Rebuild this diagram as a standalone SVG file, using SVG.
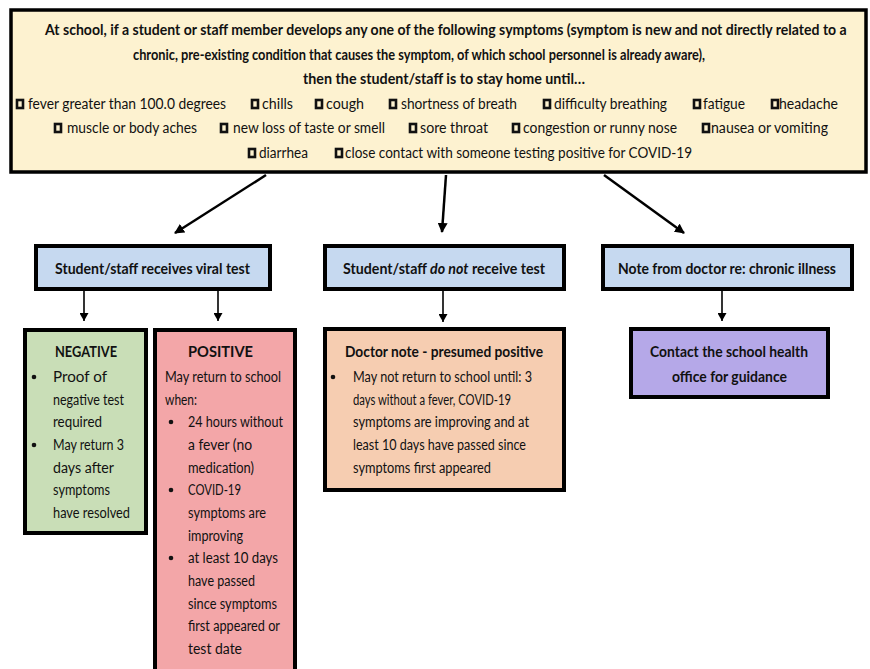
<svg xmlns="http://www.w3.org/2000/svg" width="870" height="669" viewBox="0 0 870 669">
<defs>
<style>
text{font-family:Lato,"Open Sans","Liberation Sans",sans-serif;fill:#111;}
.b{font-weight:bold;font-size:16px;}
.r{font-size:15.5px;}
.box{stroke:#000;stroke-width:4;}
.cb{fill:#fdf2d0;stroke:#111;stroke-width:2.6;}
.ar{stroke:#000;stroke-width:2.5;fill:none;marker-end:url(#ah);}
.sa{stroke:#000;stroke-width:1.6;fill:none;marker-end:url(#sh);}
.bul{fill:#111;}
</style>
<marker id="ah" markerWidth="10" markerHeight="10" refX="9" refY="5" orient="auto" markerUnits="userSpaceOnUse" viewBox="0 0 10 10">
<path d="M0,0 L10,5 L0,10 z" fill="#000"/>
</marker>
<marker id="sh" markerWidth="8" markerHeight="9" refX="8" refY="4.5" orient="auto" markerUnits="userSpaceOnUse" viewBox="0 0 8 9">
<path d="M0,0 L8,4.5 L0,9 z" fill="#000"/>
</marker>
</defs>
<rect width="870" height="669" fill="#fff"/>

<g id="top">
<rect x="11" y="10" width="855" height="162" fill="#fdf2d0" stroke="#000" stroke-width="3.5"/>
<text class="b" transform="translate(45,35) scale(0.88,1)" x="0" y="0" textLength="911" lengthAdjust="spacingAndGlyphs">At school, if a student or staff member develops any one of the following symptoms (symptom is new and not directly related to a</text>
<text class="b" x="133" y="60" textLength="572" lengthAdjust="spacingAndGlyphs">chronic, pre-existing condition that causes the symptom, of which school personnel is already aware),</text>
<text class="b" x="303" y="84" textLength="282" lengthAdjust="spacingAndGlyphs">then the student/staff is to stay home until…</text>
<rect class="cb" x="17" y="100" width="6" height="8"/>
<text class="r" x="28" y="109" textLength="198" lengthAdjust="spacingAndGlyphs">fever greater than 100.0 degrees</text>
<rect class="cb" x="252" y="100" width="6" height="8"/>
<text class="r" x="262" y="109" textLength="31" lengthAdjust="spacingAndGlyphs">chills</text>
<rect class="cb" x="316" y="100" width="6" height="8"/>
<text class="r" x="326" y="109" textLength="38" lengthAdjust="spacingAndGlyphs">cough</text>
<rect class="cb" x="390" y="100" width="6" height="8"/>
<text class="r" x="401" y="109" textLength="116" lengthAdjust="spacingAndGlyphs">shortness of breath</text>
<rect class="cb" x="544" y="100" width="6" height="8"/>
<text class="r" x="554" y="109" textLength="113" lengthAdjust="spacingAndGlyphs">difficulty breathing</text>
<rect class="cb" x="694" y="100" width="6" height="8"/>
<text class="r" x="703" y="109" textLength="42" lengthAdjust="spacingAndGlyphs">fatigue</text>
<rect class="cb" x="772" y="100" width="6" height="8"/>
<text class="r" x="779" y="109" textLength="59" lengthAdjust="spacingAndGlyphs">headache</text>
<rect class="cb" x="55" y="124" width="6" height="8"/>
<text class="r" x="67" y="133" textLength="130" lengthAdjust="spacingAndGlyphs">muscle or body aches</text>
<rect class="cb" x="221" y="124" width="6" height="8"/>
<text class="r" x="233" y="133" textLength="152" lengthAdjust="spacingAndGlyphs">new loss of taste or smell</text>
<rect class="cb" x="410" y="124" width="6" height="8"/>
<text class="r" x="420" y="133" textLength="68" lengthAdjust="spacingAndGlyphs">sore throat</text>
<rect class="cb" x="513" y="124" width="6" height="8"/>
<text class="r" x="523" y="133" textLength="154" lengthAdjust="spacingAndGlyphs">congestion or runny nose</text>
<rect class="cb" x="703" y="124" width="6" height="8"/>
<text class="r" x="711" y="133" textLength="117" lengthAdjust="spacingAndGlyphs">nausea or vomiting</text>
<rect class="cb" x="249" y="149" width="6" height="8"/>
<text class="r" x="259" y="158" textLength="49" lengthAdjust="spacingAndGlyphs">diarrhea</text>
<rect class="cb" x="336" y="149" width="6" height="8"/>
<text class="r" x="345" y="158" textLength="347" lengthAdjust="spacingAndGlyphs">close contact with someone testing positive for COVID-19</text>
</g>

<g id="connectors">
<line class="ar" x1="266" y1="175" x2="175" y2="233"/>
<line class="ar" x1="446" y1="175" x2="442" y2="232"/>
<line class="ar" x1="604" y1="175" x2="684" y2="233"/>
<line class="sa" x1="84" y1="291" x2="84" y2="321"/>
<line class="sa" x1="218" y1="291" x2="218" y2="321"/>
<line class="sa" x1="443" y1="291" x2="443" y2="322"/>
<line class="sa" x1="722" y1="291" x2="722" y2="321"/>
</g>

<g id="viral">
<rect class="box" x="36" y="246" width="234" height="43" fill="#c6d9f0"/>
<text class="b" x="55" y="274" textLength="195" lengthAdjust="spacingAndGlyphs">Student/staff receives viral test</text>
</g>
<g id="notest">
<rect class="box" x="325" y="246" width="239" height="43" fill="#c6d9f0"/>
<text class="b" transform="translate(343,274) scale(0.875,1)" x="0" y="0" textLength="231" lengthAdjust="spacingAndGlyphs">Student/staff <tspan font-style="italic">do not</tspan> receive test</text>
</g>
<g id="chronic">
<rect class="box" x="603" y="246" width="249" height="43" fill="#c6d9f0"/>
<text class="b" x="618" y="274" textLength="218" lengthAdjust="spacingAndGlyphs">Note from doctor re: chronic illness</text>
</g>

<g id="negative">
<rect class="box" x="25" y="330" width="121" height="203" fill="#c9deb7"/>
<text class="b" x="55" y="357" textLength="62" lengthAdjust="spacingAndGlyphs">NEGATIVE</text>
<circle class="bul" cx="34" cy="377" r="2.3"/>
<circle class="bul" cx="34" cy="445" r="2.3"/>
<text class="r" x="53" y="382" textLength="54" lengthAdjust="spacingAndGlyphs">Proof of</text>
<text class="r" x="53" y="405" textLength="71" lengthAdjust="spacingAndGlyphs">negative test</text>
<text class="r" x="53" y="427" textLength="49" lengthAdjust="spacingAndGlyphs">required</text>
<text class="r" x="53" y="450" textLength="71" lengthAdjust="spacingAndGlyphs">May return 3</text>
<text class="r" x="53" y="473" textLength="61" lengthAdjust="spacingAndGlyphs">days after</text>
<text class="r" x="53" y="495" textLength="57" lengthAdjust="spacingAndGlyphs">symptoms</text>
<text class="r" x="53" y="518" textLength="77" lengthAdjust="spacingAndGlyphs">have resolved</text>
</g>

<g id="positive">
<rect class="box" x="155" y="330" width="140" height="380" fill="#f3a6a8"/>
<text class="b" x="188" y="357" textLength="65" lengthAdjust="spacingAndGlyphs">POSITIVE</text>
<text class="r" x="165" y="382" textLength="116" lengthAdjust="spacingAndGlyphs">May return to school</text>
<text class="r" x="165" y="405" textLength="32" lengthAdjust="spacingAndGlyphs">when:</text>
<circle class="bul" cx="171" cy="422" r="2.3"/>
<circle class="bul" cx="171" cy="490" r="2.3"/>
<circle class="bul" cx="171" cy="558" r="2.3"/>
<text class="r" x="188" y="427" textLength="95" lengthAdjust="spacingAndGlyphs">24 hours without</text>
<text class="r" x="188" y="450" textLength="64" lengthAdjust="spacingAndGlyphs">a fever (no</text>
<text class="r" x="188" y="473" textLength="66" lengthAdjust="spacingAndGlyphs">medication)</text>
<text class="r" x="188" y="495" textLength="53" lengthAdjust="spacingAndGlyphs">COVID-19</text>
<text class="r" x="188" y="518" textLength="78" lengthAdjust="spacingAndGlyphs">symptoms are</text>
<text class="r" x="188" y="541" textLength="55" lengthAdjust="spacingAndGlyphs">improving</text>
<text class="r" x="188" y="563" textLength="90" lengthAdjust="spacingAndGlyphs">at least 10 days</text>
<text class="r" x="188" y="586" textLength="67" lengthAdjust="spacingAndGlyphs">have passed</text>
<text class="r" x="188" y="609" textLength="89" lengthAdjust="spacingAndGlyphs">since symptoms</text>
<text class="r" x="188" y="631" textLength="92" lengthAdjust="spacingAndGlyphs">first appeared or</text>
<text class="r" x="188" y="654" textLength="54" lengthAdjust="spacingAndGlyphs">test date</text>
</g>

<g id="presumed">
<rect class="box" x="325" y="329" width="239" height="161" fill="#f6cdb1"/>
<text class="b" x="345" y="357" textLength="198" lengthAdjust="spacingAndGlyphs">Doctor note - presumed positive</text>
<circle class="bul" cx="333" cy="377" r="2.3"/>
<text class="r" x="353" y="382" textLength="179" lengthAdjust="spacingAndGlyphs">May not return to school until: 3</text>
<text class="r" x="353" y="405" textLength="158" lengthAdjust="spacingAndGlyphs">days without a fever, COVID-19</text>
<text class="r" x="353" y="427" textLength="176" lengthAdjust="spacingAndGlyphs">symptoms are improving and at</text>
<text class="r" x="353" y="450" textLength="173" lengthAdjust="spacingAndGlyphs">least 10 days have passed since</text>
<text class="r" x="353" y="473" textLength="138" lengthAdjust="spacingAndGlyphs">symptoms first appeared</text>
</g>

<g id="contact">
<rect class="box" x="631" y="329" width="197" height="68" fill="#b5a8e8"/>
<text class="b" x="650" y="357" textLength="158" lengthAdjust="spacingAndGlyphs">Contact the school health</text>
<text class="b" x="672" y="382" textLength="115" lengthAdjust="spacingAndGlyphs">office for guidance</text>
</g>
</svg>
